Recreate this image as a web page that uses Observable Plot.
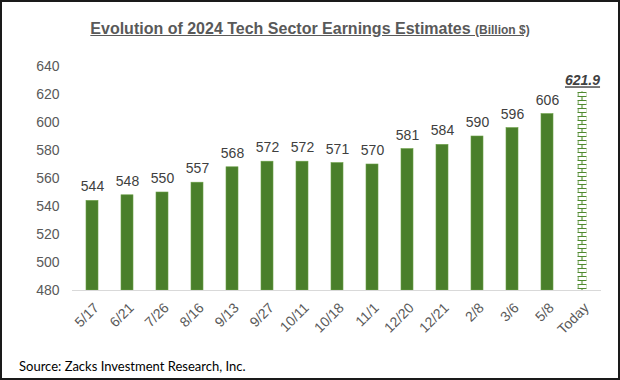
<!DOCTYPE html>
<html>
<head>
<meta charset="utf-8">
<script src="https://cdn.jsdelivr.net/npm/d3@7"></script>
<script src="https://cdn.jsdelivr.net/npm/@observablehq/plot@0.6"></script>
<style>
  html, body { margin: 0; padding: 0; background: #fff; }
  #wrap { position: relative; width: 620px; height: 380px; overflow: hidden; background: #fff; }
  #title { position: absolute; left: 0; width: 620px; top: 20px; text-align: center;
           font-family: "Liberation Sans", Arial, sans-serif; font-weight: bold; color: #595959;
           font-size: 16px; text-decoration: underline; white-space: nowrap; z-index: 2; }
  #title small { font-size: 12px; }
  #source { position: absolute; left: 19px; top: 358px; font-family: Lato, "Open Sans", sans-serif;
            font-size: 13px; color: #000; z-index: 2; }
  #chart { position: absolute; left: 0; top: 0; }
  #border { position: absolute; left: 0; top: 0; width: 620px; height: 380px; box-sizing: border-box;
            border: 2px solid #1a1a1a; pointer-events: none; z-index: 3; }
</style>
</head>
<body>
<div id="wrap">
  <div id="chart"></div>
  <div id="title">Evolution of 2024 Tech Sector Earnings Estimates <small>(Billion $)</small></div>
  <div id="source">Source: Zacks Investment Research, Inc.</div>
  <div id="border"></div>
</div>
<script>
const dates = ["5/17","6/21","7/26","8/16","9/13","9/27","10/11","10/18","11/1","12/20","12/21","2/8","3/6","5/8","Today"];
const values = [544,548,550,557,568,572,572,571,570,581,584,590,596,606,621.9];
const yTicks = [480,500,520,540,560,580,600,620,640];

const data = dates.map((d, i) => ({date: d, value: values[i]}));
const past = data.slice(0, 14);
const today = data.slice(14);

const chart = Plot.plot({
  width: 620,
  height: 350,
  marginLeft: 72,
  marginRight: 19,
  marginTop: 66,
  marginBottom: 60,
  style: {fontFamily: "'Liberation Sans', Arial, sans-serif", background: "transparent"},
  x: {domain: dates, paddingInner: 0.66, paddingOuter: 0.33, axis: null},
  y: {domain: [480, 640], axis: null},
  marks: [
    Plot.axisY({ticks: yTicks, tickSize: 0, tickPadding: 13, fontSize: 14, color: "#595959", label: null}),
    Plot.axisX({tickRotate: -45, tickSize: 0, tickPadding: 15, dx: 4, fontSize: 14, color: "#595959", label: null}),
    Plot.barY(past, {x: "date", y1: 480, y2: "value", fill: "#4a7f2b", stroke: "#6a9e45", strokeWidth: 0.6}),
    Plot.barY(today, {x: "date", y1: 480, y2: "value", fill: "url(#brick)", insetLeft: 1.5, insetRight: 1.5}),
    Plot.ruleY([480], {stroke: "#d9d9d9", strokeWidth: 1}),
    Plot.text(past, {x: "date", y: "value", text: d => String(d.value), dy: -14, fontSize: 14, fill: "#404040"}),
    Plot.text(today, {x: "date", y: "value", text: d => d.value.toFixed(1), dy: -11, fontSize: 14,
                      fontWeight: "bold", fontStyle: "italic", fill: "#404040", className: "todaylbl"})
  ]
});

// pattern for the "Today" bar
const xs = chart.scale("x");
const left = xs.apply("Today") + 1.5;
const ns = "http://www.w3.org/2000/svg";
const defs = document.createElementNS(ns, "defs");
const pat = document.createElementNS(ns, "pattern");
pat.setAttribute("id", "brick");
pat.setAttribute("patternUnits", "userSpaceOnUse");
pat.setAttribute("width", "9");
pat.setAttribute("height", "8");
pat.setAttribute("x", String(left));
pat.setAttribute("y", "0");
const bg = document.createElementNS(ns, "rect");
bg.setAttribute("width", "9"); bg.setAttribute("height", "8"); bg.setAttribute("fill", "#fff");
pat.appendChild(bg);
const p = document.createElementNS(ns, "path");
p.setAttribute("d", "M0,0.5H9M0,4.5H9M4.5,0.5V4.5M0.5,4.5V8.5");
p.setAttribute("stroke", "#4f8a2e");
p.setAttribute("stroke-width", "1.1");
p.setAttribute("fill", "none");
pat.appendChild(p);
defs.appendChild(pat);
chart.insertBefore(defs, chart.firstChild);

chart.querySelectorAll(".todaylbl text, text.todaylbl, g.todaylbl text").forEach(t => {
  t.style.textDecoration = "underline";
});
document.getElementById("chart").appendChild(chart);
</script>
</body>
</html>
